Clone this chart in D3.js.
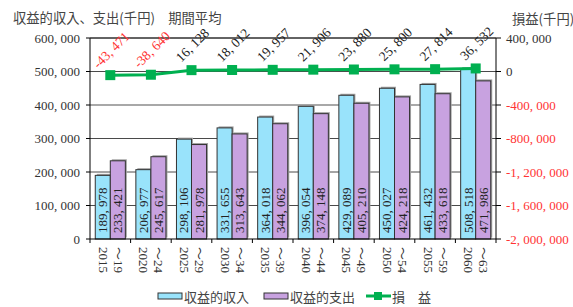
<!DOCTYPE html>
<html><head><meta charset="utf-8">
<script src="https://cdn.jsdelivr.net/npm/d3@7"></script>
<style>body{margin:0;background:#fff}svg{display:block}</style>
</head><body><svg id="c" width="573" height="307"></svg>
<script>
const categories = ["2015～19","2020～24","2025～29","2030～34","2035～39","2040～44","2045～49","2050～54","2055～59","2060～63"];
const catStart = ["2015","2020","2025","2030","2035","2040","2045","2050","2055","2060"];
const catEnd = ["～19","～24","～29","～34","～39","～44","～49","～54","～59","～63"];
const income = [189978,206977,298106,331655,364018,396054,429089,450027,461432,508518];
const expense = [233421,245617,281978,313643,344062,374148,405210,424218,433618,471986];
const profit = [-43471,-38640,16128,18012,19957,21906,23880,25800,27814,36532];
const leftTicks = [0,100000,200000,300000,400000,500000,600000];
const rightTicks = [-2000000,-1600000,-1200000,-800000,-400000,0,400000];

const serif = "'Liberation Serif','Noto Sans CJK JP',serif";
const cjk = "'Noto Sans CJK JP',sans-serif";
const svg = d3.select("#c");
const L=90,R=496,T=38,B=239;
const fmt = v => d3.format(",")(v).replace(/,/g,", ").replace("−","-");

const x0 = d3.scaleBand().domain(categories).range([L,R]).padding(0);
const x1 = d3.scaleBand().domain(["inc","exp"]).range([0,x0.bandwidth()]).paddingInner(0).paddingOuter(0.35);
const yL = d3.scaleLinear().domain([0,600000]).range([B,T]);
const yR = d3.scaleLinear().domain([-2000000,400000]).range([B,T]);

// gridlines
svg.append("g").selectAll("line").data(leftTicks.filter(d=>d>0)).join("line")
  .attr("x1",L).attr("x2",R).attr("y1",d=>yL(d)).attr("y2",d=>yL(d))
  .attr("stroke",d=>d===400000?"#a8a8a8":"#4a4a4a").attr("stroke-width",d=>d===400000?2:1);

// bars
const g = svg.append("g").selectAll("g").data(categories).join("g")
  .attr("transform",d=>`translate(${x0(d)},0)`);
const series=[{k:"inc",vals:income,c:"#99e3fb"},{k:"exp",vals:expense,c:"#c8a2e0"}];
series.forEach(s=>{
  g.append("rect").attr("x",(d,i)=>x1(s.k)+1.5).attr("y",(d,i)=>yL(s.vals[i])-1.5)
    .attr("width",x1.bandwidth()).attr("height",(d,i)=>B-yL(s.vals[i])).attr("fill","#a0a0a0");
});
series.forEach(s=>{
  g.append("rect").attr("x",(d,i)=>x1(s.k)).attr("y",(d,i)=>yL(s.vals[i]))
    .attr("width",x1.bandwidth()).attr("height",(d,i)=>B-yL(s.vals[i]))
    .attr("fill",s.c).attr("stroke","#333").attr("stroke-width",1);
  g.append("text").attr("transform",(d,i)=>`translate(${x1(s.k)+x1.bandwidth()/2},${B-6}) rotate(-90)`)
    .attr("dominant-baseline","central").attr("font-family",serif).attr("font-size",13)
    .attr("fill","#222").text((d,i)=>fmt(s.vals[i]));
});

// axes lines
svg.append("line").attr("x1",L).attr("x2",L).attr("y1",T).attr("y2",B).attr("stroke","#000");
svg.append("line").attr("x1",R).attr("x2",R).attr("y1",T).attr("y2",B).attr("stroke","#000");
svg.append("line").attr("x1",L).attr("x2",R).attr("y1",B).attr("y2",B).attr("stroke","#000");
svg.append("line").attr("x1",L).attr("x2",R).attr("y1",T).attr("y2",T).attr("stroke","#222");

// left ticks
svg.append("g").selectAll("line").data(leftTicks).join("line")
  .attr("x1",L-4).attr("x2",L).attr("y1",d=>yL(d)).attr("y2",d=>yL(d)).attr("stroke","#000");
svg.append("g").selectAll("text").data(leftTicks).join("text")
  .attr("x",80).attr("y",d=>yL(d)).attr("text-anchor","end").attr("dominant-baseline","central")
  .attr("font-family",serif).attr("font-size",13).attr("fill","#333").text(d=>fmt(d));
// right ticks
svg.append("g").selectAll("line").data(rightTicks).join("line")
  .attr("x1",R).attr("x2",R+5).attr("y1",d=>yR(d)).attr("y2",d=>yR(d)).attr("stroke","#000");
svg.append("g").selectAll("text").data(rightTicks).join("text")
  .attr("x",506).attr("y",d=>yR(d)).attr("dominant-baseline","central")
  .attr("font-family",serif).attr("font-size",13).attr("fill",d=>d<0?"#ff3333":"#333").text(d=>fmt(d));
// x ticks
svg.append("g").selectAll("line").data(d3.range(categories.length+1)).join("line")
  .attr("x1",i=>L+i*x0.step()).attr("x2",i=>L+i*x0.step()).attr("y1",B).attr("y2",B+4).attr("stroke","#000");
const xl = svg.append("g").selectAll("g").data(categories).join("g");
xl.append("text").attr("transform",(d,i)=>`translate(${x0(d)+x0.bandwidth()/2-7},${B+8}) rotate(90)`)
  .attr("dominant-baseline","central").attr("font-family",serif).attr("font-size",13).attr("fill","#333")
  .text((d,i)=>catStart[i]);
xl.append("text").attr("transform",(d,i)=>`translate(${x0(d)+x0.bandwidth()/2+8},${B+8}) rotate(90)`)
  .attr("dominant-baseline","central").attr("font-family",serif).attr("font-size",13).attr("fill","#333")
  .text((d,i)=>catEnd[i]);

// line
const cx = d=>x0(d)+x0.bandwidth()/2;
svg.append("path").datum(categories)
  .attr("d",d3.line().x(cx).y((d,i)=>yR(profit[i])))
  .attr("fill","none").attr("stroke","#00b050").attr("stroke-width",3);
svg.append("g").selectAll("rect").data(categories).join("rect")
  .attr("x",d=>cx(d)-5).attr("y",(d,i)=>yR(profit[i])-5).attr("width",10).attr("height",10).attr("fill","#00b050");
svg.append("g").selectAll("text").data(categories).join("text")
  .attr("transform",(d,i)=>`translate(${cx(d)+1},${yR(profit[i])-25}) rotate(-45)`)
  .attr("text-anchor","middle").attr("dominant-baseline","central")
  .attr("font-family",serif).attr("font-size",13.5)
  .attr("fill",(d,i)=>profit[i]<0?"#ff3333":"#222").text((d,i)=>fmt(profit[i]));

// titles
svg.append("text").attr("x",13).attr("y",17).attr("dominant-baseline","central")
  .attr("font-family",cjk).attr("font-size",13.3).attr("fill","#444").text("収益的収入、支出(千円)　期間平均");
svg.append("text").attr("x",512).attr("y",18).attr("dominant-baseline","central")
  .attr("font-family",cjk).attr("font-size",13.3).attr("fill","#444").text("損益(千円)");

// legend
const ly=296;
svg.append("rect").attr("x",158).attr("y",ly-3).attr("width",24).attr("height",6).attr("fill","#99e3fb").attr("stroke","#333");
svg.append("text").attr("x",184).attr("y",ly).attr("dominant-baseline","central").attr("font-family",cjk).attr("font-size",13).attr("fill","#444").text("収益的収入");
svg.append("rect").attr("x",264).attr("y",ly-3).attr("width",24).attr("height",6).attr("fill","#c8a2e0").attr("stroke","#333");
svg.append("text").attr("x",290).attr("y",ly).attr("dominant-baseline","central").attr("font-family",cjk).attr("font-size",13).attr("fill","#444").text("収益的支出");
svg.append("line").attr("x1",366).attr("x2",391).attr("y1",ly).attr("y2",ly).attr("stroke","#00b050").attr("stroke-width",3);
svg.append("rect").attr("x",374).attr("y",ly-4).attr("width",8).attr("height",8).attr("fill","#00b050");
svg.append("text").attr("x",392).attr("y",ly).attr("dominant-baseline","central").attr("font-family",cjk).attr("font-size",13).attr("fill","#444").text("損　益");
</script></body></html>
